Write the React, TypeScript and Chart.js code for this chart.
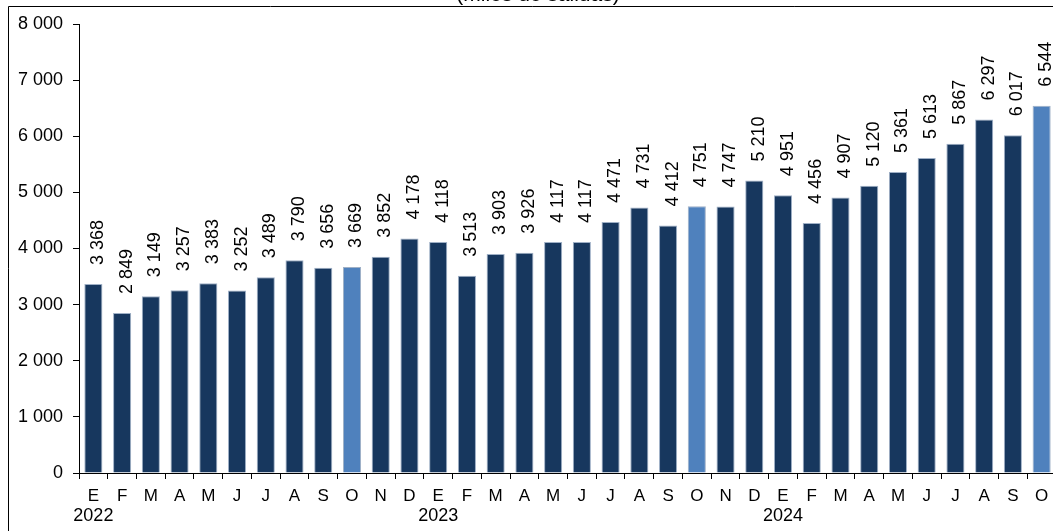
import React, { useEffect, useRef } from "react";
import { Chart, registerables } from "chart.js";

Chart.register(...registerables);

const monthLabels = [
  "E", "F", "M", "A", "M", "J", "J", "A", "S", "O", "N", "D",
  "E", "F", "M", "A", "M", "J", "J", "A", "S", "O", "N", "D",
  "E", "F", "M", "A", "M", "J", "J", "A", "S", "O",
];
const yearLabels = ["2022", "2023", "2024"];
const yearStartIndex = [0, 12, 24];

const values2022 = [3368, 2849, 3149, 3257, 3383, 3252, 3489, 3790, 3656, 3669, 3852, 4178];
const values2023 = [4118, 3513, 3903, 3926, 4117, 4117, 4471, 4731, 4412, 4751, 4747, 5210];
const values2024 = [4951, 4456, 4907, 5120, 5361, 5613, 5867, 6297, 6017, 6544];
const highlightIndices = [9, 21, 33];

const yTickValues = [0, 1000, 2000, 3000, 4000, 5000, 6000, 7000, 8000];
const titleText = "(miles de salidas)";

const allValues = [...values2022, ...values2023, ...values2024];

const DARK = "#17375E";
const LIGHT = "#4F81BD";
const FONT = "'Liberation Sans', Arial, Helvetica, sans-serif";

const fmt = (v: number) => {
  const s = String(Math.round(v));
  return s.replace(/\B(?=(\d{3})+(?!\d))/g, " ");
};

const overlayPlugin = {
  id: "overlay",
  afterDraw(chart: any) {
    const ctx = chart.ctx as CanvasRenderingContext2D;
    const meta = chart.getDatasetMeta(0);
    const xs = chart.scales.x;
    ctx.save();
    ctx.fillStyle = "#000";

    // value labels (rotated)
    ctx.font = `18px ${FONT}`;
    meta.data.forEach((bar: any, i: number) => {
      ctx.save();
      ctx.translate(bar.x + 9.5, bar.y - 19);
      ctx.rotate(-Math.PI / 2);
      ctx.textAlign = "left";
      ctx.textBaseline = "alphabetic";
      ctx.fillText(fmt(allValues[i]), 0, 0);
      ctx.restore();
    });

    // month labels
    ctx.font = `17px ${FONT}`;
    ctx.textAlign = "center";
    ctx.textBaseline = "alphabetic";
    monthLabels.forEach((m, i) => {
      const x = xs.getPixelForValue(i);
      ctx.fillText(m, x, 501);
    });

    // year labels
    ctx.font = `18px ${FONT}`;
    yearLabels.forEach((y, k) => {
      const x = xs.getPixelForValue(yearStartIndex[k]);
      ctx.fillText(y, x, 521);
    });

    // title (partially cut off at top)
    ctx.font = `21px ${FONT}`;
    ctx.fillText(titleText, 538, 1);

    // outer frame
    ctx.strokeStyle = "#000";
    ctx.lineWidth = 1;
    ctx.beginPath();
    ctx.moveTo(8.5, chart.height);
    ctx.lineTo(8.5, 6.5);
    ctx.lineTo(chart.width, 6.5);
    ctx.stroke();

    ctx.restore();
  },
};

export default function App() {
  const canvasRef = useRef<HTMLCanvasElement | null>(null);

  useEffect(() => {
    if (!canvasRef.current) return;
    const chart = new Chart(canvasRef.current, {
      type: "bar",
      data: {
        labels: monthLabels,
        datasets: [
          {
            data: allValues,
            backgroundColor: allValues.map((_, i) =>
              highlightIndices.includes(i) ? LIGHT : DARK
            ),
            borderColor: "#9FB0C6",
            borderWidth: 1,
            barPercentage: 0.63,
            categoryPercentage: 1,
          },
        ],
      },
      options: {
        animation: false,
        responsive: false,
        devicePixelRatio: 1,
        layout: { padding: { top: 24, left: 0, right: 0, bottom: 0 } },
        plugins: {
          legend: { display: false },
          tooltip: { enabled: false },
          title: { display: false },
        },
        scales: {
          x: {
            type: "category",
            afterFit: (scale: any) => {
              scale.height = 58;
            },
            grid: {
              display: true,
              drawOnChartArea: false,
              drawTicks: true,
              tickLength: 6,
              color: "#000",
              offset: true,
            },
            border: { display: true, color: "#000", width: 1 },
            ticks: { display: false },
          },
          y: {
            min: 0,
            max: 8000,
            afterFit: (scale: any) => {
              scale.width = 79;
            },
            afterBuildTicks: (scale: any) => {
              scale.ticks = yTickValues.map((v) => ({ value: v }));
            },
            grid: {
              display: true,
              drawOnChartArea: false,
              drawTicks: true,
              tickLength: 6,
              color: "#000",
            },
            border: { display: true, color: "#000", width: 1 },
            ticks: {
              padding: 10,
              color: "#000",
              font: { family: FONT, size: 18 },
              callback: (v: any) => fmt(Number(v)),
            },
          },
        },
      },
      plugins: [overlayPlugin],
    });
    return () => chart.destroy();
  }, []);

  return (
    <div
      style={{
        position: "fixed",
        left: 0,
        top: 0,
        width: 1053,
        height: 531,
        overflow: "hidden",
        background: "#fff",
      }}
    >
      <canvas
        ref={canvasRef}
        width={1056}
        height={531}
        style={{ display: "block", width: 1056, height: 531 }}
      />
    </div>
  );
}
